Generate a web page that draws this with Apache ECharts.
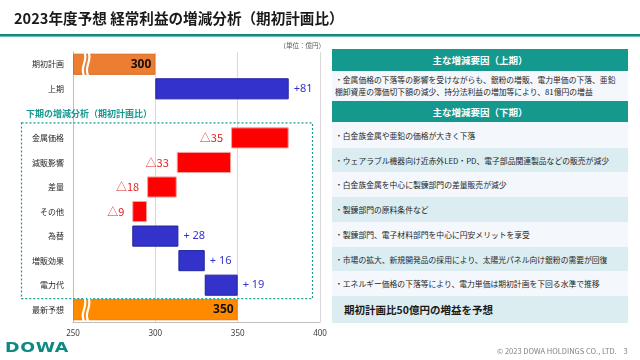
<!DOCTYPE html>
<html><head><meta charset="utf-8">
<script src="https://cdn.jsdelivr.net/npm/echarts@6.0.0/dist/echarts.min.js"></script>
<style>
html,body{margin:0;padding:0;}
body{width:640px;height:360px;overflow:hidden;background:#fff;position:relative;font-family:"Noto Sans CJK JP","Noto Sans",sans-serif;}
#chart{position:absolute;left:0;top:0;width:640px;height:360px;}
.abs{position:absolute;}
#title{left:14px;top:7px;font-size:14.6px;font-weight:bold;color:#1a1a1a;white-space:nowrap;letter-spacing:0px;}
#line1{left:0;top:34px;width:640px;height:2px;background:#178a80;}
#line2{left:0;top:36px;width:640px;height:1px;background:#6fbfb6;}
.hdr{position:absolute;left:332px;width:296px;background:#15998f;color:#fff;font-weight:bold;font-size:9.5px;display:flex;align-items:center;justify-content:center;}
.row{position:absolute;left:332px;width:296px;color:#262626;font-size:7.8px;display:flex;align-items:center;padding-left:3px;box-sizing:border-box;white-space:nowrap;}
.l{background:#f4f7fb;}
.t{background:#dcedf1;}
#logo{left:5px;top:339px;font-family:"DejaVu Sans",sans-serif;font-weight:bold;font-size:14px;color:#0e8a84;transform:scaleX(1.25);transform-origin:left center;letter-spacing:0.5px;}
#copy{left:497px;top:345px;font-size:7.5px;color:#808080;white-space:nowrap;}
</style>
</head><body>
<div id="chart"></div>
<div id="title" class="abs">2023年度予想 経常利益の増減分析（期初計画比）</div>
<div id="line1" class="abs"></div>
<div id="line2" class="abs"></div>
<div id="panel"></div>
<div id="logo" class="abs">DOWA</div>
<div id="copy" class="abs">© 2023 DOWA HOLDINGS CO., LTD.&nbsp;&nbsp;&nbsp;&nbsp;3</div>
<script>
// ---- data ----
const categories = ['期初計画','上期','','金属価格','減販影響','差量','その他','為替','増販効果','電力代','最新予想'];
const barStart   = [250, 300, null, 346, 313, 295, 286, 286, 314, 330, 250];
const barEnd     = [300, 381, null, 381, 346, 313, 295, 314, 330, 350, 350];
const barLabels  = ['300','+81','','△35','△33','△18','△9','+ 28','+ 16','+ 19','350'];
const barKind    = ['total','up','','down','down','down','down','up','up','up','final'];
const xTicks     = [250, 300, 350, 400];
const sectionLabel = '下期の増減分析（期初計画比）';
const unitLabel = '（単位：億円）';
const panelHeaders = ['主な増減要因（上期）','主な増減要因（下期）'];
const firstHalfText = ['・金属価格の下落等の影響を受けながらも、銀粉の増販、電力単価の下落、亜鉛','棚卸資産の簿価切下額の減少、持分法利益の増加等により、81億円の増益'];
const secondHalfRows = [
  '・白金族金属や亜鉛の価格が大きく下落',
  '・ウェアラブル機器向け近赤外LED・PD、電子部品関連製品などの販売が減少',
  '・白金族金属を中心に製錬部門の差量販売が減少',
  '・製錬部門の原料条件など',
  '・製錬部門、電子材料部門を中心に円安メリットを享受',
  '・市場の拡大、新規開発品の採用により、太陽光パネル向け銀粉の需要が回復',
  '・エネルギー価格の下落等により、電力単価は期初計画を下回る水準で推移'
];
const summaryText = '期初計画比50億円の増益を予想';

// ---- right panel (HTML) ----
const panel = document.getElementById('panel');
function add(cls, top, h, html, extra){
  const d = document.createElement('div');
  d.className = cls; d.style.top = top+'px'; d.style.height = h+'px';
  d.innerHTML = html; if (extra) Object.assign(d.style, extra);
  panel.appendChild(d);
}
add('hdr', 49, 22, panelHeaders[0]);
add('row l', 71, 30, '<div style="line-height:12px">'+firstHalfText.join('<br>')+'</div>');
add('hdr', 101, 21, panelHeaders[1]);
const rowTops = [122,148,172,197,222,247,271,296];
secondHalfRows.forEach((t,i)=>{
  add('row ' + (i%2===0?'l':'t'), rowTops[i], rowTops[i+1]-rowTops[i], t);
});
add('row t', 296, 27, summaryText, {fontSize:'10.5px',fontWeight:'bold',paddingLeft:'12px',color:'#1a1a1a'});

// ---- chart ----
const styleByKind = {
  total: {color:'#ED7D31', borderColor:'#d8691f', label:'#111111'},
  final: {color:'#FF8A00', borderColor:'#e87a00', label:'#111111'},
  up:    {color:'#3333CC', borderColor:'#22229f', label:'#3333CC'},
  down:  {color:'#FF0000', borderColor:'#f5a0a0', label:'#E02020'}
};
const baseData = barStart.map(v => v === null ? '-' : v);
const deltaData = barStart.map((s,i) => {
  if (s === null) return '-';
  const k = barKind[i], st = styleByKind[k];
  let label;
  if (k === 'total' || k === 'final') {
    label = {show:true, position:'insideRight', distance:4, formatter: barLabels[i], color: st.label, fontSize:12, fontWeight:'bold', fontFamily:'Noto Sans'};
  } else if (k === 'up') {
    label = {show:true, position:'right', distance:5, formatter: barLabels[i], color: st.label, fontSize:11, fontFamily:'Noto Sans'};
  } else {
    label = {show:true, position:'left', distance:8, formatter: barLabels[i], color: st.label, fontSize:11, fontFamily:'Noto Sans CJK JP'};
  }
  return {value: barEnd[i] - s, itemStyle:{color: st.color, borderColor: st.borderColor, borderWidth:1}, label};
});

const chart = echarts.init(document.getElementById('chart'), null, {renderer:'canvas'});
const option = {
  animation:false,
  grid:{left:73, right:320, top:52, height:270, containLabel:false},
  xAxis:{
    type:'value', min:xTicks[0], max:xTicks[xTicks.length-1], interval:50,
    axisLine:{show:true, onZero:false, lineStyle:{color:'#bfbfbf'}},
    axisTick:{show:false},
    axisLabel:{color:'#404040', fontSize:8, margin:8, fontFamily:'Noto Sans'},
    splitLine:{show:true, lineStyle:{color:'#d9d9d9', width:1}}
  },
  yAxis:{
    type:'category', data:categories, inverse:true,
    axisLine:{show:true, lineStyle:{color:'#bfbfbf'}},
    axisTick:{show:false},
    axisLabel:{color:'#262626', fontSize:8, margin:9, fontFamily:'Noto Sans CJK JP'}
  },
  series:[
    {type:'bar', stack:'w', data:baseData, barWidth:'86%', itemStyle:{color:'transparent'}, silent:true},
    {type:'bar', stack:'w', data:deltaData, barWidth:'86%'}
  ]
};
chart.setOption(option);

// decorations positioned with the chart's own scales
const yc = i => chart.convertToPixel({gridIndex:0}, [250, i])[1];
const xc = v => chart.convertToPixel({gridIndex:0}, [v, 0])[0];
const slot = yc(1) - yc(0);
const half = slot * 0.43;
const graphics = [];
// dashed box around second-half rows
graphics.push({type:'rect', shape:{x:21.5, y:yc(3)-15, width:291, height:(yc(9)+13.5)-(yc(3)-15)},
  style:{fill:'none', stroke:'#1a9a8f', lineWidth:1.2, lineDash:[2,2]}, z:10});
// section label
graphics.push({type:'text', x:26, y:yc(2), style:{text:sectionLabel, fill:'#14998f', font:'bold 9px "Noto Sans CJK JP"', textVerticalAlign:'middle'}, z:10});
// unit label
graphics.push({type:'text', x:325, y:46, style:{text:unitLabel, fill:'#595959', font:'6.5px "Noto Sans CJK JP"', textAlign:'right', textVerticalAlign:'middle'}, z:10});
// axis break marks on the two total bars
[0, 10].forEach(idx => {
  const cy = yc(idx);
  [256.7, 259.2].forEach(v => {
    const x = xc(v);
    const y1 = cy - half - 4, y2 = cy + half + 1, m = cy;
    graphics.push({type:'bezierCurve', shape:{x1:x, y1:y1, x2:x, y2:y2, cpx1:x+5, cpy1:m-1, cpx2:x-5, cpy2:m+1},
      style:{stroke:'#ffffff', lineWidth:2.2, fill:'none'}, z:20});
  });
});
chart.setOption({graphic: graphics});
</script>
</body></html>
